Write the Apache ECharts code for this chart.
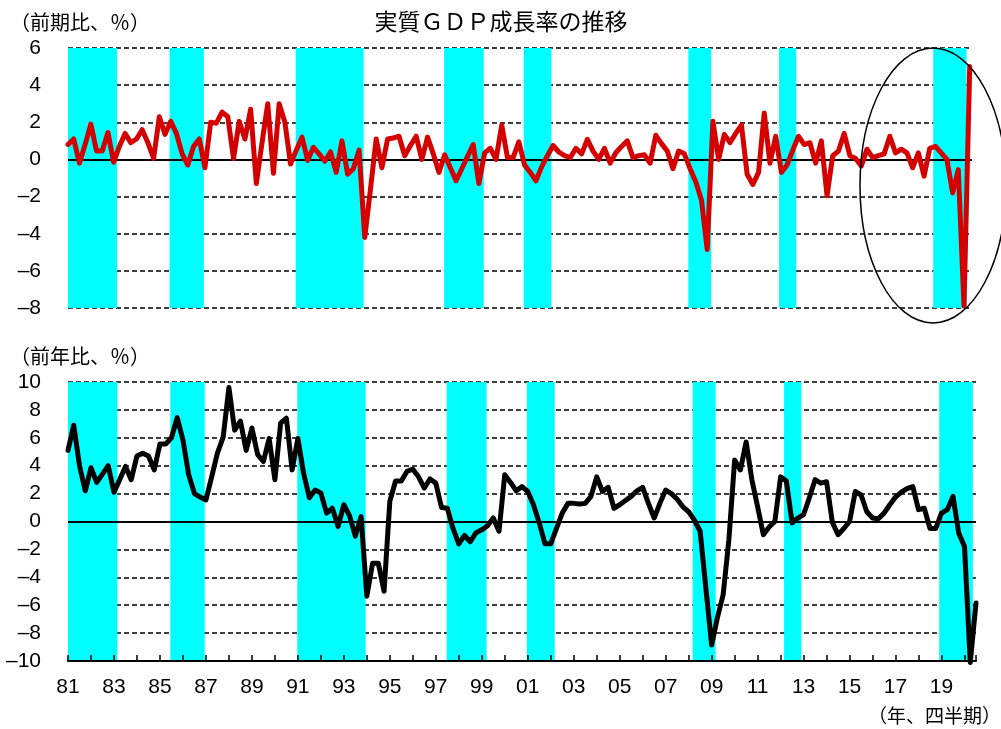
<!DOCTYPE html>
<html>
<head>
<meta charset="utf-8">
<script src="https://cdn.jsdelivr.net/npm/echarts/dist/echarts.min.js"></script>
<style>
  html, body { margin: 0; padding: 0; background: #fff; }
  #chart { width: 1001px; height: 729px; }
</style>
</head>
<body>
<div id="chart"></div>
<script>
// Quarterly series, 1981Q1 .. 2020Q3 (index 0 = 1981Q1)
const startYear = 1981;
const yearLabels = ['81','83','85','87','89','91','93','95','97','99',
                    '01','03','05','07','09','11','13','15','17','19'];

// Real GDP, quarter-on-quarter change (%)
const qoqGrowth = [
  0.8, 1.1, -0.2, 0.8, 1.9, 0.45, 0.45, 1.45, -0.15, 0.7,
  1.4, 0.9, 1.1, 1.6, 0.9, 0.05, 2.3, 1.35, 2.05, 1.4,
  0.3, -0.3, 0.7, 1.1, -0.45, 2.0, 1.95, 2.55, 2.3, 0.05,
  2.05, 1.1, 2.7, -1.3, 0.9, 3.0, -0.75, 3.0, 2.0, -0.25,
  0.5, 1.2, -0.05, 0.65, 0.3, -0.1, 0.4, -0.7, 1.0, -0.8,
  -0.5, 0.5, -4.2, -1.6, 1.1, -0.45, 1.1, 1.15, 1.25, 0.2,
  0.75, 1.25, 0.0, 1.2, 0.3, -0.7, 0.25, -0.45, -1.15, -0.5,
  0.15, 0.8, -1.3, 0.35, 0.6, 0.0, 1.85, 0.1, 0.1, 0.95,
  -0.3, -0.7, -1.15, -0.4, 0.2, 0.75, 0.4, 0.2, 0.1, 0.6,
  0.3, 1.08, 0.45, 0.0, 0.6, -0.2, 0.36, 0.7, 1.0, 0.1,
  0.2, 0.25, -0.2, 1.3, 0.85, 0.45, -0.5, 0.45, 0.3, -0.5,
  -1.2, -2.2, -4.85, 2.05, 0.0, 1.35, 0.9, 1.4, 1.85, -0.8,
  -1.35, -0.7, 2.5, -0.2, 1.25, -0.7, -0.3, 0.5, 1.25, 0.8,
  0.9, -0.2, 1.0, -1.95, 0.2, 0.45, 1.4, 0.2, 0.05, -0.35,
  0.55, 0.1, 0.2, 0.3, 1.25, 0.35, 0.55, 0.35, -0.45, 0.35,
  -0.9, 0.6, 0.7, 0.35, 0.0, -1.8, -0.55, -7.9, 5.0
];

// Real GDP, year-on-year change (%)
const yoyGrowth = [
  5.1, 6.9, 4.0, 2.2, 3.85, 2.8, 3.4, 4.0, 2.1, 3.0,
  3.95, 3.0, 4.7, 4.9, 4.7, 3.7, 5.55, 5.55, 6.0, 7.45,
  5.85, 3.35, 2.0, 1.75, 1.55, 3.2, 4.9, 6.05, 9.6, 6.55,
  7.2, 5.1, 6.7, 4.8, 4.3, 5.95, 3.0, 7.05, 7.4, 3.7,
  5.95, 3.45, 1.7, 2.25, 2.05, 0.6, 0.95, -0.35, 1.2, 0.4,
  -1.05, 0.35, -5.35, -3.0, -3.0, -5.0, 1.45, 2.9, 2.9, 3.6,
  3.75, 3.2, 2.4, 3.05, 2.75, 1.0, 0.95, -0.5, -1.6, -1.0,
  -1.45, -0.8, -0.6, -0.3, 0.25, -0.7, 3.35, 2.8, 2.2, 2.5,
  2.15, 1.2, -0.1, -1.6, -1.6, -0.5, 0.6, 1.3, 1.3, 1.25,
  1.3, 1.8, 3.2, 2.15, 2.45, 0.95, 1.2, 1.5, 1.8, 2.2,
  2.45, 1.3, 0.25, 1.3, 2.25, 2.0, 1.6, 1.05, 0.7, 0.1,
  -0.7, -4.8, -8.85, -6.9, -5.25, -1.3, 4.4, 3.7, 5.7, 3.0,
  1.05, -0.95, -0.4, 0.0, 3.2, 2.9, -0.1, 0.25, 0.5, 1.7,
  3.0, 2.75, 2.85, -0.05, -0.95, -0.5, 0.0, 2.15, 1.9, 0.7,
  0.25, 0.2, 0.6, 1.2, 1.75, 2.1, 2.35, 2.5, 0.85, 0.95,
  -0.5, -0.5, 0.6, 0.85, 1.8, -0.85, -1.8, -10.1, -5.85
];

// Recession periods, as [start, end] in quarter index
const recessionBands = [
  [0, 8.6], [17.8, 23.8], [39.9, 51.8], [65.9, 72.85],
  [79.85, 84.7], [108.7, 112.7], [124.6, 127.6], [151.6, 157.45]
];

const numFont = "'Liberation Sans Narrow', 'Liberation Sans', sans-serif";
const jpFont = "'Noto Sans CJK JP', 'Noto Sans', sans-serif";
const minus = v => String(v).replace('-', '\u2013');

const toPoints = arr => arr.map((v, i) => [i, v]);
const bandAreas = recessionBands.map(([a, b]) => [{ xAxis: a }, { xAxis: b }]);

const chart = echarts.init(document.getElementById('chart'), null, { renderer: 'canvas' });

const dashed = { show: true, lineStyle: { color: '#000', width: 1.5, type: [5, 3] } };

function bandSeries(idx) {
  return {
    type: 'line', xAxisIndex: idx, yAxisIndex: idx, data: [], silent: true, z: 1,
    markArea: { silent: true, itemStyle: { color: '#00ffff' }, data: bandAreas }
  };
}
function zeroSeries(idx) {
  return {
    type: 'line', xAxisIndex: idx, yAxisIndex: idx, data: [], silent: true, z: 3,
    markLine: {
      silent: true, symbol: 'none', label: { show: false },
      lineStyle: { color: '#000', width: 2, type: 'solid' },
      data: [{ yAxis: 0 }]
    }
  };
}

chart.setOption({
  animation: false,
  backgroundColor: '#fff',
  title: {
    text: '実質ＧＤＰ成長率の推移',
    left: 496, top: 5, textAlign: 'center',
    textStyle: { fontFamily: jpFont, fontSize: 23, fontWeight: 'normal', color: '#000' }
  },
  grid: [
    { left: 68, top: 48, width: 904, height: 260 },
    { left: 68, top: 382, width: 908, height: 279 }
  ],
  xAxis: [
    {
      type: 'value', gridIndex: 0, min: 0, max: 158.4, interval: 4,
      axisLine: { show: false }, axisTick: { show: false },
      axisLabel: { show: false }, splitLine: { show: false }
    },
    {
      type: 'value', gridIndex: 1, min: 0, max: 158, interval: 4, z: 10,
      axisLine: { show: true, onZero: false, lineStyle: { color: '#000', width: 2 } },
      axisTick: { show: true, inside: true, length: 6, lineStyle: { color: '#000', width: 1.5 } },
      axisLabel: {
        show: true, margin: 16, color: '#000', fontFamily: numFont, fontSize: 21,
        formatter: v => (v % 8 === 0 && yearLabels[v / 8] !== undefined) ? yearLabels[v / 8] : ''
      },
      splitLine: { show: false }
    }
  ],
  yAxis: [
    {
      type: 'value', gridIndex: 0, min: -8, max: 6, interval: 2,
      axisLine: { show: false }, axisTick: { show: false },
      axisLabel: { color: '#000', fontFamily: numFont, fontSize: 21, margin: 27, formatter: minus },
      splitLine: dashed
    },
    {
      type: 'value', gridIndex: 1, min: -10, max: 10, interval: 2,
      axisLine: { show: false }, axisTick: { show: false },
      axisLabel: { color: '#000', fontFamily: numFont, fontSize: 21, margin: 27, formatter: minus },
      splitLine: dashed
    }
  ],
  graphic: [
    { type: 'text', left: 10, top: 12,
      style: { text: '（前期比、％）', fontFamily: jpFont, fontSize: 20, fill: '#000' } },
    { type: 'text', left: 10, top: 346,
      style: { text: '（前年比、％）', fontFamily: jpFont, fontSize: 20, fill: '#000' } },
    { type: 'text', right: 0, top: 706,
      style: { text: '（年、四半期）', fontFamily: jpFont, fontSize: 19, fill: '#000' } },
    { type: 'ellipse', z: 20, silent: true,
      shape: { cx: 933, cy: 185.5, rx: 73, ry: 137.5 },
      style: { fill: 'none', stroke: '#000', lineWidth: 1.5 } }
  ],
  series: [
    bandSeries(0),
    zeroSeries(0),
    {
      name: '前期比', type: 'line', xAxisIndex: 0, yAxisIndex: 0, z: 5,
      data: toPoints(qoqGrowth), showSymbol: false, symbol: 'none', clip: false,
      lineStyle: { color: '#d40000', width: 5, join: 'round', cap: 'round' }
    },
    bandSeries(1),
    zeroSeries(1),
    {
      name: '前年比', type: 'line', xAxisIndex: 1, yAxisIndex: 1, z: 5,
      data: toPoints(yoyGrowth), showSymbol: false, symbol: 'none', clip: false,
      lineStyle: { color: '#000', width: 5, join: 'round', cap: 'round' }
    }
  ]
});
</script>
</body>
</html>
